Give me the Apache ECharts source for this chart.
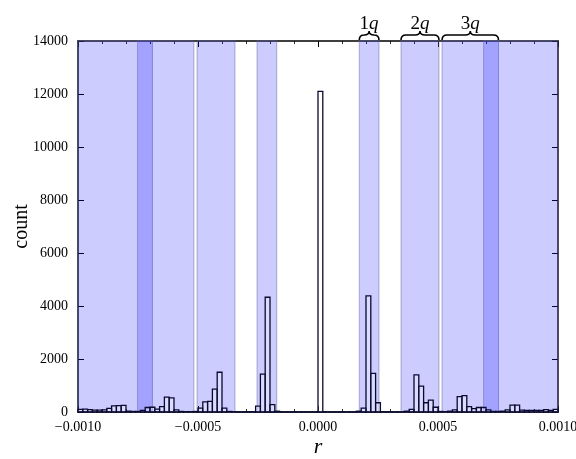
<!DOCTYPE html>
<html><head><meta charset="utf-8">
<script src="https://cdn.jsdelivr.net/npm/echarts@6/dist/echarts.min.js"></script>
<style>html,body{margin:0;padding:0;background:#fff}#c{width:576px;height:459px}</style>
</head><body><div id="c"></div>
<script>
// Histogram: bins of width binWidth starting at binStart
const binStart = -0.001;
const binWidth = 0.00002;
const counts = [
  100,110,90,70,70,80,140,230,240,250,
  30,20,20,60,170,180,110,200,560,530,
  80,20,10,10,20,150,380,400,860,1500,
  150,20,10,0,0,0,10,220,1430,4330,
  280,30,0,0,0,0,0,0,0,0,
  12100,0,0,0,0,0,0,0,30,150,
  4380,1460,350,10,0,0,0,0,30,100,
  1400,980,350,450,180,20,10,30,80,580,
  620,200,130,170,170,80,20,20,30,80,
  260,260,70,60,60,60,60,90,60,100
];
// shaded bands [from, to]
const bandFrom = [-0.001, -0.000752, -0.000504, -0.000254, 0.000172, 0.000346, 0.000517, 0.00069];
const bandTo   = [-0.00069, -0.000517, -0.000346, -0.000172, 0.000254, 0.000504, 0.000752, 0.001];
// braces above the plot
const braceNum  = ['1', '2', '3'];
const braceFrom = [0.000172, 0.000346, 0.000517];
const braceTo   = [0.000254, 0.000504, 0.000752];
const xTickLabels = ['\u22120.0010', '\u22120.0005', '0.0000', '0.0005', '0.0010'];
const yTickLabels = ['0','2000','4000','6000','8000','10000','12000','14000'];

const serif = "'Liberation Serif','DejaVu Serif',serif";
const histData = counts.map((c, i) => [binStart + i * binWidth, binStart + (i + 1) * binWidth, c]);
const bandData = bandFrom.map((a, i) => [a, bandTo[i]]);
const braceData = braceFrom.map((a, i) => [a, braceTo[i], i]);

function xLabel(v) {
  const idx = Math.round((v + 0.001) / 0.0005);
  return xTickLabels[idx] !== undefined ? xTickLabels[idx] : '';
}
function yLabel(v) {
  const idx = Math.round(v / 2000);
  return yTickLabels[idx] !== undefined ? yTickLabels[idx] : '';
}

const axisCommon = {
  type: 'value', min: -0.001, max: 0.001, interval: 0.0005,
  axisLine: { show: true, onZero: false, lineStyle: { color: '#000', width: 1.5 } },
  axisTick: { show: true, inside: true, length: 6, lineStyle: { color: '#000', width: 1 } },
  minorTick: { show: true, splitNumber: 5, length: 3, lineStyle: { color: '#000', width: 0.8 } },
  splitLine: { show: false }
};
const yCommon = {
  type: 'value', min: 0, max: 14000, interval: 2000,
  axisLine: { show: true, onZero: false, lineStyle: { color: '#000', width: 1.5 } },
  axisTick: { show: true, inside: true, length: 6, lineStyle: { color: '#000', width: 1 } },
  splitLine: { show: false }
};

const chart = echarts.init(document.getElementById('c'), null, { renderer: 'canvas' });
chart.setOption({
  animation: false,
  backgroundColor: '#fff',
  grid: { left: 78, right: 18, top: 41, bottom: 47, containLabel: false, outerBoundsMode: 'none' },
  xAxis: [
    Object.assign({}, axisCommon, {
      position: 'bottom',
      axisLabel: { formatter: xLabel, color: '#000', fontFamily: serif, fontSize: 14, margin: 8 },
      name: 'r', nameLocation: 'middle', nameGap: 24, nameMoveOverlap: false,
      nameTextStyle: { fontFamily: serif, fontStyle: 'italic', fontSize: 22, color: '#000' }
    }),
    Object.assign({}, axisCommon, { position: 'top', axisLabel: { show: false } })
  ],
  yAxis: [
    Object.assign({}, yCommon, {
      position: 'left',
      axisLabel: { formatter: yLabel, color: '#000', fontFamily: serif, fontSize: 14, margin: 10 },
      name: 'count', nameLocation: 'middle', nameGap: 46, nameRotate: 90, nameMoveOverlap: false,
      nameTextStyle: { fontFamily: serif, fontSize: 20, color: '#000' }
    }),
    Object.assign({}, yCommon, { position: 'right', axisLabel: { show: false } })
  ],
  series: [
    {
      type: 'custom', z: 1, xAxisIndex: 0, yAxisIndex: 0,
      data: bandData,
      encode: { x: [0, 1] },
      renderItem(params, api) {
        const cs = params.coordSys;
        const p0 = api.coord([api.value(0), 0]);
        const p1 = api.coord([api.value(1), 0]);
        return {
          type: 'rect',
          shape: { x: p0[0], y: cs.y, width: p1[0] - p0[0], height: cs.height },
          style: { fill: 'rgba(0,0,255,0.2)', stroke: 'rgba(110,110,170,0.55)', lineWidth: 1 }
        };
      }
    },
    {
      type: 'custom', z: 2, xAxisIndex: 0, yAxisIndex: 0,
      data: histData,
      encode: { x: [0, 1], y: 2 },
      renderItem(params, api) {
        const p0 = api.coord([api.value(0), api.value(2)]);
        const p1 = api.coord([api.value(1), 0]);
        return {
          type: 'rect',
          shape: { x: p0[0], y: p0[1], width: p1[0] - p0[0], height: p1[1] - p0[1] },
          style: { fill: 'rgba(255,255,255,0.3)', stroke: '#0a0a30', lineWidth: 1.3 }
        };
      }
    },
    {
      type: 'custom', z: 3, xAxisIndex: 0, yAxisIndex: 0, clip: false,
      data: braceData,
      encode: { x: [0, 1] },
      renderItem(params, api) {
        const cs = params.coordSys;
        const x1 = api.coord([api.value(0), 0])[0];
        const x2 = api.coord([api.value(1), 0])[0];
        const xm = (x1 + x2) / 2;
        const yb = cs.y;
        const r = 5;
        const d = 'M' + x1 + ' ' + (yb - 1) +
          ' Q' + x1 + ' ' + (yb - 6) + ' ' + (x1 + r) + ' ' + (yb - 6) +
          ' L' + (xm - r) + ' ' + (yb - 6) +
          ' Q' + xm + ' ' + (yb - 6) + ' ' + xm + ' ' + (yb - 10) +
          ' Q' + xm + ' ' + (yb - 6) + ' ' + (xm + r) + ' ' + (yb - 6) +
          ' L' + (x2 - r) + ' ' + (yb - 6) +
          ' Q' + x2 + ' ' + (yb - 6) + ' ' + x2 + ' ' + (yb - 1);
        return {
          type: 'group',
          children: [
            { type: 'path', shape: { pathData: d },
              style: { fill: 'none', stroke: '#000', lineWidth: 1.6 } },
            { type: 'text', x: xm, y: yb - 17,
              style: {
                text: '{n|' + braceNum[api.value(2)] + '}{i|q}',
                align: 'center', verticalAlign: 'middle',
                rich: {
                  n: { fontFamily: serif, fontSize: 19, fill: '#000' },
                  i: { fontFamily: serif, fontSize: 19, fontStyle: 'italic', fill: '#000' }
                }
              } }
          ]
        };
      }
    }
  ]
});
</script></body></html>
